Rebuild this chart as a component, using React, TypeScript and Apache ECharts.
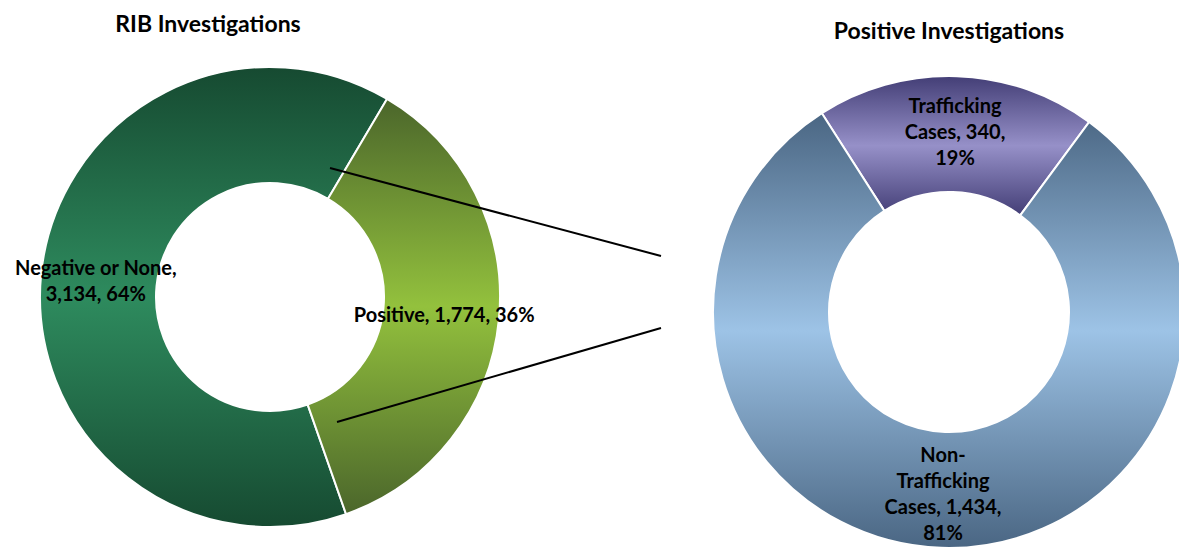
import React, { useEffect, useRef } from "react";
import * as echarts from "echarts";

const leftTitle = "RIB Investigations";
const leftNames = ["Negative or None", "Positive"];
const leftValues = [3134, 1774];

const rightTitle = "Positive Investigations";
const rightNames = ["Trafficking Cases", "Non-Trafficking Cases"];
const rightValues = [340, 1434];

const FONT = "Lato";

const grad = (edge: string, mid: string) =>
  new echarts.graphic.LinearGradient(0, 0, 0, 1, [
    { offset: 0, color: edge },
    { offset: 0.5, color: mid },
    { offset: 1, color: edge },
  ]);

const fmt = (v: number) => v.toLocaleString("en-US");
const pct = (v: number, arr: number[]) =>
  Math.round((v / arr.reduce((a, b) => a + b, 0)) * 100);

export default function App() {
  const ref = useRef<HTMLDivElement>(null);
  useEffect(() => {
    document.body.style.margin = "0";
    if (!ref.current) return;
    const chart = echarts.init(ref.current, null, { renderer: "svg" });

    const leftText = [
      (i: number) =>
        `${leftNames[i]},\n${fmt(leftValues[i])}, ${pct(leftValues[i], leftValues)}%`,
      (i: number) =>
        `${leftNames[i]}, ${fmt(leftValues[i])}, ${pct(leftValues[i], leftValues)}%`,
    ];
    const rightText = [
      (i: number) =>
        `Trafficking\nCases, ${fmt(rightValues[i])},\n${pct(rightValues[i], rightValues)}%`,
      (i: number) =>
        `Non-\nTrafficking\nCases, ${fmt(rightValues[i])},\n${pct(rightValues[i], rightValues)}%`,
    ];

    const leftColors = [grad("#164a31", "#2e8b5e"), grad("#4b662b", "#93c13d")];
    const rightColors = [grad("#433e76", "#9690c8"), grad("#4a6683", "#9dc3e6")];

    const labelStyle = {
      show: true,
      position: "inside" as const,
      color: "#000",
      fontFamily: FONT,
      fontWeight: "bold" as const,
      fontSize: 20,
      lineHeight: 26,
      align: "center" as const,
    };

    chart.setOption({
      animation: false,
      title: [
        {
          text: leftTitle,
          left: 203,
          top: 6,
          textAlign: "center",
          textStyle: { fontFamily: FONT, fontWeight: "bold", fontSize: 23, color: "#000" },
        },
        {
          text: rightTitle,
          left: 944,
          top: 13,
          textAlign: "center",
          textStyle: { fontFamily: FONT, fontWeight: "bold", fontSize: 23, color: "#000" },
        },
      ],
      series: [
        {
          type: "pie",
          center: [270, 297],
          radius: [114, 230],
          startAngle: 289.3,
          clockwise: true,
          silent: true,
          labelLine: { show: false },
          emphasis: { disabled: true },
          itemStyle: { borderColor: "#fff", borderWidth: 2 },
          data: leftNames.map((n, i) => ({
            name: n,
            value: leftValues[i],
            itemStyle: { color: leftColors[i] },
            label: { ...labelStyle, formatter: leftText[i](i) },
          })),
        },
        {
          type: "pie",
          center: [949, 312],
          radius: [120, 236],
          startAngle: 122.6,
          clockwise: true,
          silent: true,
          labelLine: { show: false },
          emphasis: { disabled: true },
          itemStyle: { borderColor: "#fff", borderWidth: 2 },
          data: rightNames.map((n, i) => ({
            name: n,
            value: rightValues[i],
            itemStyle: { color: rightColors[i] },
            label: { ...labelStyle, formatter: rightText[i](i) },
          })),
        },
      ],
      graphic: [
        {
          type: "line",
          z: 100,
          shape: { x1: 330, y1: 168, x2: 661, y2: 256 },
          style: { stroke: "#000", lineWidth: 2 },
        },
        {
          type: "line",
          z: 100,
          shape: { x1: 337, y1: 422, x2: 661, y2: 328 },
          style: { stroke: "#000", lineWidth: 2 },
        },
      ],
    });
    return () => chart.dispose();
  }, []);
  return <div ref={ref} style={{ width: 1179, height: 550 }} />;
}
